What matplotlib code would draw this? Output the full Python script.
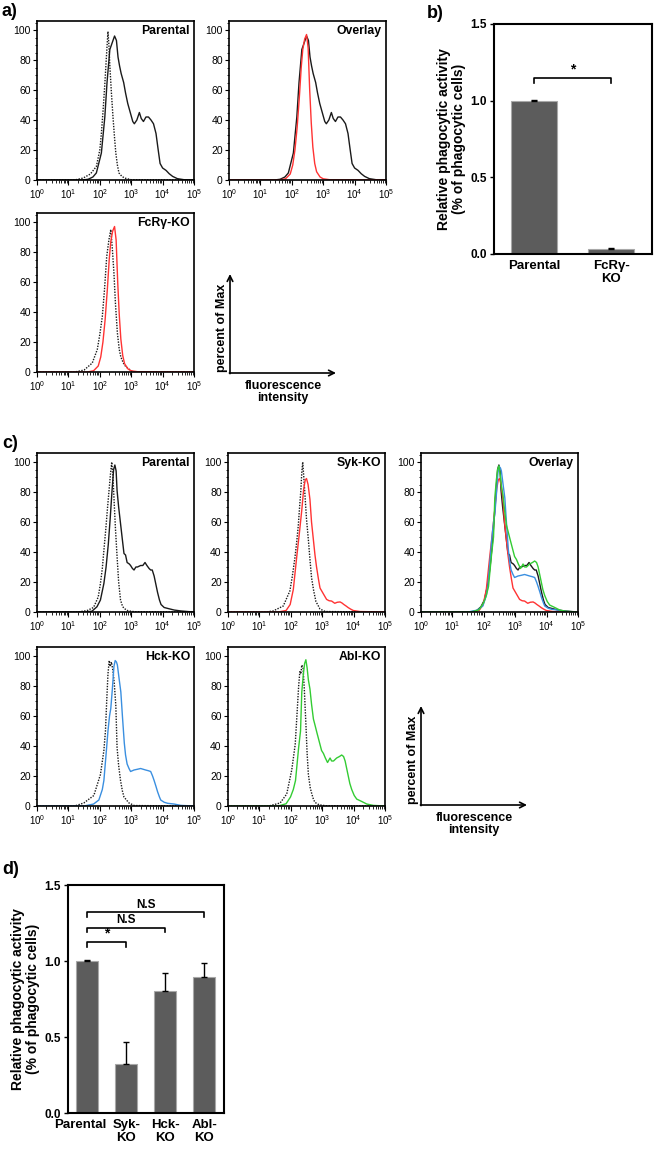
import numpy as np
import matplotlib.pyplot as plt
from matplotlib.ticker import LogLocator, MultipleLocator, NullFormatter
import matplotlib.transforms as mtransforms

plt.rcParams['font.family'] = ['Liberation Sans', 'DejaVu Sans']
plt.rcParams['mathtext.fontset'] = 'custom'
plt.rcParams['mathtext.rm'] = 'Liberation Sans'
plt.rcParams['mathtext.bf'] = 'Liberation Sans:bold'

# --- histogram data (x = log10 fluorescence, y = percent of max) ---
# panel a
a_ctrl_logx = [0, 1.2, 1.47, 1.7, 1.89, 2.0, 2.05, 2.11, 2.16, 2.21, 2.26, 2.29, 2.32, 2.37, 2.42, 2.47, 2.51, 2.56, 2.61, 2.7, 2.79, 3.0, 5]
a_ctrl_y = [0, 0, 1.3, 4, 9, 20, 31, 48, 64, 82, 99, 90, 76, 58, 42, 28, 18, 10, 4.7, 2.5, 1.3, 0.2, 0]

a_par_logx = [0, 1.45, 1.63, 1.78, 1.89, 2.05, 2.16, 2.23, 2.32, 2.37, 2.47, 2.53, 2.58, 2.63, 2.68, 2.76, 2.82, 2.89, 2.97, 3.05,
              3.1, 3.18, 3.26, 3.32, 3.39, 3.47, 3.55, 3.63, 3.71, 3.79, 3.86, 3.92, 4.0, 4.11, 4.21, 4.32, 4.47, 4.68, 5]
a_par_y = [0, 0, 0.5, 2, 4.7, 18, 42, 65, 87, 90, 96, 93, 82, 76, 71, 65, 58, 51, 45, 39,
           37.5, 40, 45, 41, 39, 42, 42, 40, 37.5, 31, 20, 11, 8, 6.4, 4.2, 2.4, 0.9, 0.2, 0]

a_fcr_logx = [0, 1.6, 1.8, 1.95, 2.03, 2.1, 2.17, 2.24, 2.3, 2.35, 2.41, 2.47, 2.52, 2.57, 2.62, 2.67, 2.73, 2.79, 2.9, 3.0, 3.2, 5]
a_fcr_y = [0, 0, 0.8, 4, 10, 20, 35, 55, 75, 87, 94, 97, 88, 60, 38, 22, 11, 5.5, 2, 0.8, 0.2, 0]

a_fcr_ctrl_logx = [0, 1.2, 1.5, 1.76, 1.92, 2.0, 2.08, 2.15, 2.22, 2.29, 2.35, 2.4, 2.45, 2.5, 2.56, 2.62, 2.67, 2.75, 2.83, 3.04, 5]
a_fcr_ctrl_y = [0, 0, 1.3, 6, 15, 25, 37, 55, 77, 88, 95, 82, 66, 45, 26, 15, 10, 6, 3.5, 0.2, 0]

# panel c
c_ctrl_logx = [0, 1.3, 1.6, 1.8, 1.95, 2.02, 2.08, 2.13, 2.19, 2.24, 2.29, 2.34, 2.38, 2.42, 2.46, 2.5, 2.55, 2.6, 2.66, 2.72, 2.77, 2.9, 3.1, 5]
c_ctrl_y = [0, 0, 1, 3, 10, 19, 29, 41, 55, 68, 80, 92, 100, 90, 72, 55, 37, 20, 8, 4, 2.4, 0.8, 0.2, 0]

c_par_logx = [0, 1.5, 1.75, 1.91, 2.02, 2.13, 2.2, 2.27, 2.33, 2.39, 2.44, 2.48, 2.52, 2.55, 2.6, 2.66, 2.72, 2.77, 2.82, 2.87,
              2.94, 2.98, 3.04, 3.09, 3.15, 3.2, 3.3, 3.37, 3.44, 3.5, 3.57, 3.62, 3.67, 3.73, 3.79, 3.84, 3.9, 3.95, 4.05, 4.16,
              4.37, 4.58, 4.8, 5]
c_par_y = [0, 0, 0.5, 3.5, 8, 19, 30, 45, 62, 81, 95, 98, 94, 81, 70, 59, 48, 39, 38, 33,
           32, 31, 29, 28, 30, 30, 31, 31, 33, 31, 29, 28, 28, 24, 18, 13, 8, 5, 3, 2.4,
           1.3, 0.7, 0.3, 0]

c_syk_logx = [0, 1.6, 1.85, 1.98, 2.08, 2.19, 2.27, 2.35, 2.41, 2.46, 2.5, 2.55, 2.61, 2.66, 2.72, 2.77, 2.82, 2.88, 2.93, 3.04,
              3.14, 3.22, 3.3, 3.4, 3.48, 3.57, 3.63, 3.69, 3.76, 3.83, 3.9, 3.99, 4.2, 5]
c_syk_y = [0, 0, 1, 5, 15, 37, 52, 68, 82, 88, 89, 85, 75, 60, 48, 38, 30, 22, 16, 12,
           8.4, 7.5, 7.3, 5.8, 6.5, 6.7, 6, 5, 4, 2.9, 2, 1, 0.3, 0]

c_syk_ctrl_logx = [0, 1.2, 1.44, 1.76, 1.97, 2.05, 2.13, 2.19, 2.24, 2.28, 2.32, 2.35, 2.38, 2.42, 2.46, 2.5, 2.56, 2.61, 2.66, 2.73, 2.8, 2.93, 3.1, 5]
c_syk_ctrl_y = [0, 0, 0.7, 4, 14, 24, 36, 47, 58, 70, 81, 93, 100, 88, 75, 62, 48, 35, 23, 14, 7, 2, 0.3, 0]

c_hck_logx = [0, 1.5, 1.8, 1.97, 2.08, 2.13, 2.21, 2.26, 2.31, 2.35, 2.4, 2.45, 2.49, 2.53, 2.56, 2.62, 2.67, 2.72, 2.78, 2.82,
              2.87, 2.93, 2.98, 3.09, 3.2, 3.3, 3.38, 3.46, 3.55, 3.62, 3.68, 3.73, 3.79, 3.84, 3.9, 3.94, 4.05, 4.16, 4.37, 4.58, 5]
c_hck_y = [0, 0, 1.3, 4, 11, 17, 37, 50, 60, 65, 78, 93, 97, 96, 94, 84, 76, 60, 42, 34,
           28, 25, 23, 24, 24.5, 25, 24.5, 24, 23.5, 23, 20, 17, 13, 9.5, 6, 4, 2.5, 1.8, 1.3, 0.4, 0]

c_hck_ctrl_logx = [0, 1.2, 1.49, 1.81, 2.02, 2.13, 2.18, 2.22, 2.26, 2.3, 2.33, 2.37, 2.42, 2.46, 2.51, 2.55, 2.6, 2.66, 2.72, 2.77, 2.93, 3.1, 5]
c_hck_ctrl_y = [0, 0, 2, 7, 21, 37, 50, 70, 88, 97, 93, 96, 90, 82, 67, 39, 27, 17, 10, 6, 2, 0.3, 0]

c_abl_logx = [0, 1.6, 1.85, 1.99, 2.08, 2.15, 2.25, 2.31, 2.35, 2.4, 2.44, 2.48, 2.52, 2.56, 2.61, 2.66, 2.72, 2.77, 2.83, 2.88,
              2.93, 2.98, 3.04, 3.1, 3.17, 3.25, 3.3, 3.36, 3.46, 3.55, 3.62, 3.68, 3.73, 3.78, 3.83, 3.88, 3.94, 4.02, 4.1, 4.26,
              4.42, 4.63, 5]
c_abl_y = [0, 0, 1.5, 6, 11, 17, 39, 50, 76, 88, 95, 97.5, 92, 84, 78, 68, 58, 54, 49, 45,
           41, 37, 35, 32, 29, 32, 30, 30, 32, 33, 34, 33, 30, 25, 20, 15, 11, 7, 4.6, 3,
           1.3, 0.4, 0]

c_abl_ctrl_logx = [0, 1.3, 1.66, 1.87, 2.03, 2.14, 2.2, 2.25, 2.29, 2.32, 2.35, 2.39, 2.43, 2.48, 2.52, 2.56, 2.62, 2.67, 2.72, 2.77, 2.9, 3.1, 5]
c_abl_ctrl_y = [0, 0, 2, 8, 24, 41, 62, 80, 90, 88, 94, 92, 78, 55, 35, 21, 12, 8, 4.5, 2.4, 0.8, 0.2, 0]

# --- bar data ---
b_groups = ['Parental', 'FcRγ-\nKO']
b_vals = [1.0, 0.03]
b_errs = [0.003, 0.012]

d_groups = ['Parental', 'Syk-\nKO', 'Hck-\nKO', 'Abl-\nKO']
d_vals = [1.0, 0.32, 0.80, 0.895]
d_errs = [0.004, 0.145, 0.12, 0.095]

RED = '#ff3333'
BLUE = '#3a8fe0'
GREEN = '#33cc33'
BLACK = '#1a1a1a'

W, H = 655, 1150
fig = plt.figure(figsize=(W / 100, H / 100), dpi=100)


def add_ax(x0, y0, x1, y1):
    return fig.add_axes([x0 / W, 1 - y1 / H, (x1 - x0) / W, (y1 - y0) / H])


def hist_ax(x0, y0, title):
    ax = add_ax(x0, y0, x0 + 157, y0 + 159)
    ax.set_xscale('log')
    ax.set_xlim(1, 1e5)
    ax.set_ylim(0, 106)
    ax.set_yticks([0, 20, 40, 60, 80, 100])
    ax.yaxis.set_minor_locator(MultipleLocator(5))
    ax.xaxis.set_major_locator(LogLocator(base=10, numticks=10))
    ax.xaxis.set_minor_locator(LogLocator(base=10, subs=np.arange(2, 10), numticks=10))
    ax.xaxis.set_minor_formatter(NullFormatter())
    ax.tick_params(axis='x', which='major', length=3.5, width=0.8, labelsize=7, pad=2)
    ax.tick_params(axis='x', which='minor', length=2, width=0.6)
    ax.tick_params(axis='y', which='major', length=3, width=0.8, labelsize=7.5, pad=1.5)
    ax.tick_params(axis='y', which='minor', length=1.5, width=0.6)
    for s in ax.spines.values():
        s.set_linewidth(1.2)
    ax.text(0.975, 0.975, title, transform=ax.transAxes, ha='right', va='top',
            fontsize=8.8, fontweight='bold')
    return ax


def curve(ax, logx, y, color, dotted=False):
    ls = (0, (1, 1)) if dotted else '-'
    ax.plot(10 ** np.array(logx), y, color=color, lw=1.0, ls=ls)


def bar_panel(x0, y0, x1, y1, groups, vals, errs, xlim, width):
    ax = add_ax(x0, y0, x1, y1)
    pos = np.arange(len(groups))
    ax.bar(pos, vals, width=width, color='#5c5c5c', edgecolor='#a8a8a8', linewidth=0.8, zorder=2)
    ax.errorbar(pos, vals, yerr=[np.zeros(len(vals)), errs], fmt='none', ecolor='black',
                elinewidth=1, capsize=2, capthick=1, zorder=3)
    ax.set_xlim(*xlim)
    ax.set_ylim(0, 1.5)
    ax.set_yticks([0, 0.5, 1.0, 1.5])
    ax.set_yticklabels(['0.0', '0.5', '1.0', '1.5'], fontweight='bold')
    ax.set_xticks(pos)
    ax.set_xticklabels(groups, fontweight='bold', fontsize=9.5, linespacing=1.2)
    ax.tick_params(axis='x', length=0, pad=4)
    ax.tick_params(axis='y', length=3, width=1, labelsize=8.5, pad=2)
    for s in ax.spines.values():
        s.set_linewidth(1.5)
    ax.set_ylabel('Relative phagocytic activity\n(% of phagocytic cells)', fontweight='bold',
                  fontsize=10, labelpad=3, linespacing=1.15)
    return ax


def bracket(ax, i0, i1, y, label, dy=0.03):
    ax.plot([i0, i0, i1, i1], [y - dy, y, y, y - dy], color='black', lw=1.2)
    size = 10 if label == '*' else 8.5
    ax.text((i0 + i1) / 2, y + 0.008, label, ha='center', va='bottom', fontsize=size, fontweight='bold')


# ---- panel a ----
ax = hist_ax(37, 21, 'Parental')
curve(ax, a_ctrl_logx, a_ctrl_y, BLACK, dotted=True)
curve(ax, a_par_logx, a_par_y, BLACK)

ax = hist_ax(229, 21, 'Overlay')
curve(ax, a_par_logx, a_par_y, BLACK)
curve(ax, a_fcr_logx, a_fcr_y, RED)

ax = hist_ax(37, 213, 'FcRγ-KO')
curve(ax, a_fcr_ctrl_logx, a_fcr_ctrl_y, BLACK, dotted=True)
curve(ax, a_fcr_logx, a_fcr_y, RED)

# ---- panel b ----
ax = bar_panel(494, 24, 652, 254, b_groups, b_vals, b_errs, (-0.52, 1.53), 0.6)
bracket(ax, 0, 1, 1.148, '*')

# ---- panel c ----
ax = hist_ax(37, 453, 'Parental')
curve(ax, c_ctrl_logx, c_ctrl_y, BLACK, dotted=True)
curve(ax, c_par_logx, c_par_y, BLACK)

ax = hist_ax(228, 453, 'Syk-KO')
curve(ax, c_syk_ctrl_logx, c_syk_ctrl_y, BLACK, dotted=True)
curve(ax, c_syk_logx, c_syk_y, RED)

ax = hist_ax(421, 453, 'Overlay')
curve(ax, c_par_logx, c_par_y, BLACK)
curve(ax, c_syk_logx, c_syk_y, RED)
curve(ax, c_hck_logx, c_hck_y, BLUE)
curve(ax, c_abl_logx, c_abl_y, GREEN)

ax = hist_ax(37, 647, 'Hck-KO')
curve(ax, c_hck_ctrl_logx, c_hck_ctrl_y, BLACK, dotted=True)
curve(ax, c_hck_logx, c_hck_y, BLUE)

ax = hist_ax(228, 647, 'Abl-KO')
curve(ax, c_abl_ctrl_logx, c_abl_ctrl_y, BLACK, dotted=True)
curve(ax, c_abl_logx, c_abl_y, GREEN)

# ---- panel d ----
ax = bar_panel(68, 885, 224, 1113, d_groups, d_vals, d_errs, (-0.49, 3.51), 0.56)
bracket(ax, 0, 1, 1.125, '*')
bracket(ax, 0, 2, 1.22, 'N.S')
bracket(ax, 0, 3, 1.32, 'N.S')
lab = ax.get_xticklabels()[0]
lab.set_transform(lab.get_transform() + mtransforms.ScaledTranslation(-0.07, 0, fig.dpi_scale_trans))

# ---- overlay for panel letters and axis schematics (figure pixels) ----
ov = fig.add_axes([0, 0, 1, 1], zorder=-1)
ov.set_xlim(0, W)
ov.set_ylim(H, 0)
ov.axis('off')

for txt, x, y in [('a)', 2, 12), ('b)', 427, 13), ('c)', 2, 444), ('d)', 2, 870)]:
    ov.text(x, y, txt, ha='left', va='center', fontsize=13, fontweight='bold')


def schematic(x0, y0):
    arrow = dict(arrowstyle='->', lw=1.2, color='black', shrinkA=0, shrinkB=0, mutation_scale=10)
    ov.annotate('', xy=(x0, y0 - 99), xytext=(x0, y0 + 0.6), arrowprops=arrow)
    ov.annotate('', xy=(x0 + 106, y0), xytext=(x0 - 0.6, y0), arrowprops=arrow)
    ov.text(x0 - 8, y0 - 45, 'percent of Max', rotation=90, ha='center', va='center',
            fontsize=9, fontweight='bold')
    ov.text(x0 + 53, y0 + 19, 'fluorescence\nintensity', ha='center', va='center',
            fontsize=9, fontweight='bold', linespacing=1.1)


schematic(230, 373)
schematic(421, 805)

fig.savefig('out.png', dpi=100)
